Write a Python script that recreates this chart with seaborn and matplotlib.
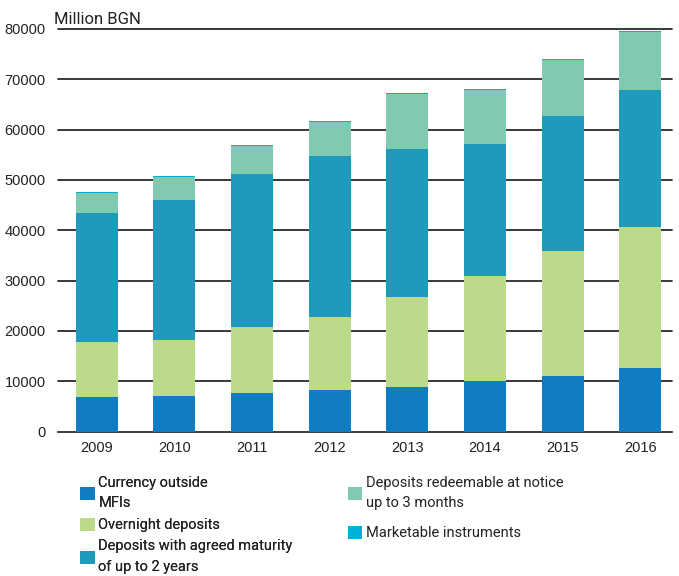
import matplotlib
matplotlib.use("Agg")
import matplotlib.pyplot as plt
import seaborn as sns
import pandas as pd
import numpy as np
from matplotlib.patches import Patch

years = ["2009", "2010", "2011", "2012", "2013", "2014", "2015", "2016"]
currency = [6900, 7100, 7700, 8300, 8900, 10100, 11100, 12700]
overnight = [10900, 11100, 13100, 14500, 17900, 20900, 24700, 28000]
agreed = [25600, 27800, 30400, 32000, 29400, 26200, 27000, 27200]
redeemable = [4000, 4600, 5600, 6800, 10900, 10700, 11100, 11600]
marketable = [200, 200, 200, 200, 200, 200, 200, 200]

series_names = ["Currency outside\nMFIs", "Overnight deposits",
                "Deposits with agreed maturity\nof up to 2 years",
                "Deposits redeemable at notice\nup to 3 months",
                "Marketable instruments"]
series_vals = [currency, overnight, agreed, redeemable, marketable]
colors = ["#107CC1", "#BBDA8A", "#1F99BC", "#80CBAF", "#00B0DC"]

sns.set_theme(style="white")
plt.rcParams["font.family"] = ["Roboto", "DejaVu Sans"]

fig = plt.figure(figsize=(6.79, 5.76), dpi=100)
ax = fig.add_axes([58 / 679, 1 - 431.5 / 576, 614 / 679, 402.5 / 576])

cum = np.cumsum(np.array(series_vals), axis=0)
for i in range(len(series_vals) - 1, -1, -1):
    df = pd.DataFrame({"year": years, "value": cum[i]})
    sns.barplot(data=df, x="year", y="value", color=colors[i], ax=ax,
                width=0.54, saturation=1, linewidth=0, zorder=3)

ax.set_ylim(0, 80000)
ax.set_xlim(-0.5, 7.41)
ax.set_yticks(range(0, 80001, 10000))
ax.yaxis.grid(True, color="#2a2a2a", linewidth=1.3, zorder=0)
for gl in ax.get_ygridlines():
    gl.set_clip_on(False)
ax.set_axisbelow(True)
for s in ["top", "right", "left"]:
    ax.spines[s].set_visible(False)
ax.spines["bottom"].set_color("#444444")
ax.spines["bottom"].set_linewidth(1.2)
ax.set_xlabel("")
ax.set_ylabel("")
ax.tick_params(axis="y", length=0, pad=9, labelsize=10.5, labelcolor="#222222")
ax.tick_params(axis="x", length=0, pad=7, labelsize=10.5, labelcolor="#222222")
ax.set_xticks(list(np.arange(-0.5, 7.0, 1.0)) + [7.41], minor=True)
ax.tick_params(axis="x", which="minor", length=6, width=1.2, color="#444444", direction="out")
for t in ax.get_xticklabels() + ax.get_yticklabels():
    t.set_family(["Liberation Sans", "DejaVu Sans"])

fig.text(0.080, 0.967, "Million BGN", fontsize=12, color="#222222", ha="left", va="center")

h = [Patch(facecolor=c, edgecolor="none") for c in colors]
common = dict(loc="upper left", frameon=False, handlelength=1.0,
              handleheight=1.0, handletextpad=0.25, borderaxespad=0, borderpad=0,
              prop={"family": ["Roboto", "DejaVu Sans"], "size": 10.5})
leg1 = fig.legend(h[:3], series_names[:3], bbox_to_anchor=(0.118, 0.174),
                  labelspacing=0.5, **common)
leg2 = fig.legend(h[3:], series_names[3:], bbox_to_anchor=(0.512, 0.174),
                  labelspacing=1.05, **common)
for leg in (leg1, leg2):
    for t in leg.get_texts():
        t.set_linespacing(1.6)
        t.set_color("#222222")
fig.add_artist(leg1)

fig.savefig("out.png", dpi=100)
